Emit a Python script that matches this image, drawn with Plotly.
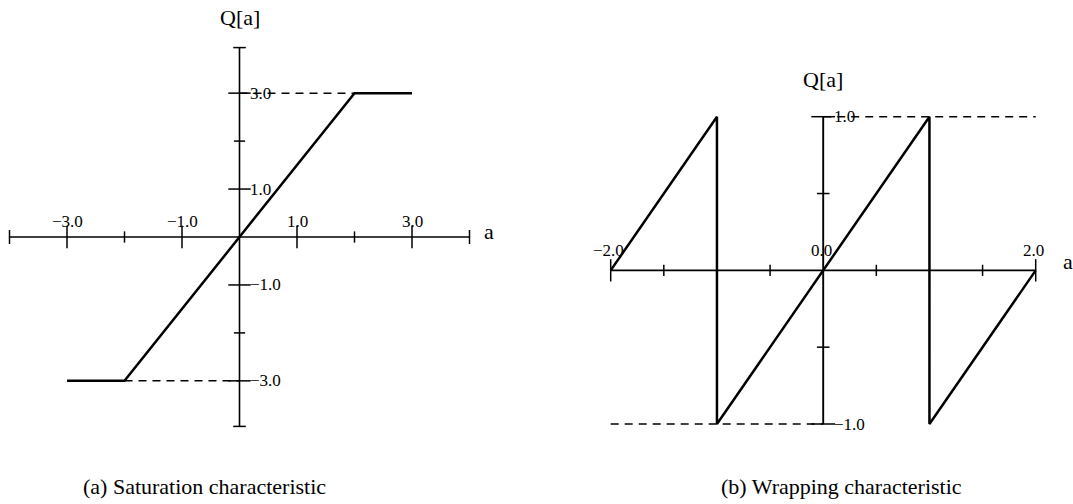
import plotly.graph_objects as go

# ---- data ---------------------------------------------------------------
# (a) saturation characteristic: corner points of Q[a]
sat_a = [-3.0, -2.0, 2.0, 3.0]
sat_q = [-3.0, -3.0, 3.0, 3.0]
sat_level = 3.0          # saturation level, marked by dashed guides
sat_knee = 2.0           # input at which saturation begins

# (b) wrapping characteristic: corner points of Q[a]
wrap_a = [-2.0, -1.0, -1.0, 1.0, 1.0, 2.0]
wrap_q = [0.0, 1.0, -1.0, 1.0, -1.0, 0.0]
wrap_level = 1.0

# axis extents and ticks
sat_x_end = 4.0
sat_y_end = 3.95
sat_x_major = [-3.0, -1.0, 1.0, 3.0]
sat_x_minor = [-2.0, 2.0]
sat_y_major = [-3.0, -1.0, 1.0, 3.0]
sat_y_minor = [-2.0, 2.0]
sat_x_labels = ["\u22123.0", "\u22121.0", "1.0", "3.0"]
sat_y_labels = ["\u22123.0", "\u22121.0", "1.0", "3.0"]

wrap_x_end = 2.0
wrap_y_end = 1.0
wrap_x_minor = [-1.5, -0.5, 0.5, 1.5]
wrap_y_minor = [-0.5, 0.5]
wrap_x_label_vals = [-2.0, 0.0, 2.0]
wrap_x_labels = ["\u22122.0", "0.0", "2.0"]
wrap_y_label_vals = [1.0, -1.0]
wrap_y_labels = ["1.0", "\u22121.0"]

captions = ["(a) Saturation characteristic", "(b) Wrapping characteristic"]

# ---- page geometry (pixels) ---------------------------------------------
W, H = 1073, 504
# origin position and pixels per unit for each panel
L_X0, L_Y0, L_SX, L_SY = 239.5, 237.0, 57.5, 47.95
R_X0, R_Y0, R_SX, R_SY = 823.2, 270.35, 106.25, 153.65
SPLIT = 0.5

FONT = "Liberation Serif"
BLACK = "#000000"


def xr(x0, sx, d0, d1):
    return [(d0 * W - x0) / sx, (d1 * W - x0) / sx]


def yr(y0, sy):
    return [(y0 - H) / sy, y0 / sy]


fig = go.Figure()


def line(xs, ys, ax, width, dash="solid"):
    fig.add_trace(go.Scatter(
        x=xs, y=ys, mode="lines", xaxis=ax[0], yaxis=ax[1],
        line=dict(color=BLACK, width=width, dash=dash),
        hoverinfo="skip", showlegend=False))


def ticks(xs, ys, ax, symbol, size, width=1.5):
    fig.add_trace(go.Scatter(
        x=xs, y=ys, mode="markers", xaxis=ax[0], yaxis=ax[1],
        marker=dict(symbol=symbol, size=size,
                    line=dict(color=BLACK, width=width)),
        hoverinfo="skip", showlegend=False))


LA = ("x", "y")
RA = ("x2", "y2")
DASH = "8px,6px"

# ---- panel (a) ----------------------------------------------------------
line([-sat_x_end, sat_x_end], [0, 0], LA, 1.6)
line([0, 0], [-sat_y_end, sat_y_end], LA, 1.6)
line([-sat_knee, 0], [-sat_level, -sat_level], LA, 1.5, DASH)
line([0, sat_knee], [sat_level, sat_level], LA, 1.5, DASH)
ticks(sat_x_major, [0] * len(sat_x_major), LA, "line-ns", 16)
ticks(sat_x_minor, [0] * len(sat_x_minor), LA, "line-ns", 8)
ticks([-sat_x_end, sat_x_end], [0, 0], LA, "line-ns", 10)
ticks([0] * len(sat_y_major), sat_y_major, LA, "line-ew", 16)
ticks([0] * len(sat_y_minor), sat_y_minor, LA, "line-ew", 8)
ticks([0, 0], [-sat_y_end, sat_y_end], LA, "line-ew", 9)
line(sat_a, sat_q, LA, 2.5)

# ---- panel (b) ----------------------------------------------------------
line([-wrap_x_end, wrap_x_end], [0, 0], RA, 1.6)
line([0, 0], [-wrap_y_end, wrap_y_end], RA, 1.9)
line([0, wrap_x_end], [wrap_level, wrap_level], RA, 1.5, DASH)
line([-wrap_x_end, 0], [-wrap_level, -wrap_level], RA, 1.5, DASH)
ticks(wrap_x_minor, [0] * len(wrap_x_minor), RA, "line-ns", 8)
ticks([-wrap_x_end, wrap_x_end], [0, 0], RA, "line-ns", 16)
ticks([0] * len(wrap_y_minor), wrap_y_minor, RA, "line-ew", 9)
ticks([0, 0], [-wrap_y_end, wrap_y_end], RA, "line-ew", 17)
line(wrap_a, wrap_q, RA, 2.5)

# ---- text ---------------------------------------------------------------
ann = []


def text(s, x, y, xref, yref, size, xanchor="center", yanchor="middle",
         xshift=0, yshift=0):
    ann.append(dict(text=s, x=x, y=y, xref=xref, yref=yref,
                    xanchor=xanchor, yanchor=yanchor,
                    xshift=xshift, yshift=yshift, showarrow=False,
                    font=dict(family=FONT, size=size, color=BLACK)))


for v, s in zip(sat_x_major, sat_x_labels):
    text(s, v, 0, "x", "y", 17, yshift=16)
for v, s in zip(sat_y_major, sat_y_labels):
    text(s, 0, v, "x", "y", 17, xanchor="left", xshift=8)
text("Q[a]", 0, sat_y_end, "x", "y", 22, yshift=30)
text("a", sat_x_end, 0, "x", "y", 22, xshift=19, yshift=6)

for v, s in zip(wrap_x_label_vals, wrap_x_labels):
    text(s, v, 0, "x2", "y2", 17, xshift=-2, yshift=20)
for v, s in zip(wrap_y_label_vals, wrap_y_labels):
    text(s, 0, v, "x2", "y2", 17, xanchor="left", xshift=9)
text("Q[a]", 0, wrap_y_end, "x2", "y2", 22, yshift=37)
text("a", wrap_x_end, 0, "x2", "y2", 22, xshift=32, yshift=9)

text(captions[0], 204 / W, 1 - 486 / H, "paper", "paper", 22)
text(captions[1], 841 / W, 1 - 486 / H, "paper", "paper", 22)

hidden = dict(visible=False, showgrid=False, zeroline=False, fixedrange=True)
fig.update_layout(
    width=W, height=H,
    margin=dict(l=0, r=0, t=0, b=0),
    paper_bgcolor="white", plot_bgcolor="white",
    showlegend=False, hovermode=False,
    xaxis=dict(domain=[0, SPLIT], range=xr(L_X0, L_SX, 0, SPLIT), **hidden),
    yaxis=dict(domain=[0, 1], range=yr(L_Y0, L_SY), **hidden),
    xaxis2=dict(domain=[SPLIT, 1], range=xr(R_X0, R_SX, SPLIT, 1),
                anchor="y2", **hidden),
    yaxis2=dict(domain=[0, 1], range=yr(R_Y0, R_SY), anchor="x2", **hidden),
    annotations=ann,
)

fig.write_html("out.html", config=dict(displayModeBar=False))
